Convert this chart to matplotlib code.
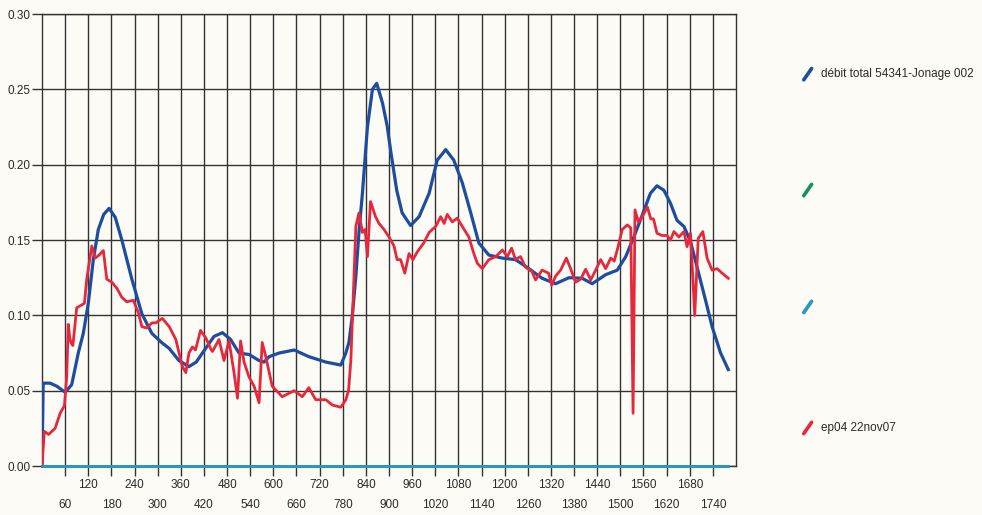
import matplotlib
matplotlib.use("Agg")
import matplotlib.pyplot as plt
from matplotlib.lines import Line2D
from matplotlib.ticker import MultipleLocator, FixedLocator

plt.rcParams['font.family'] = ['Liberation Sans', 'DejaVu Sans']

# débit total (blue)
debit_x = [0, 3, 21, 38, 60, 77, 94, 107, 120, 133, 146, 160, 174, 190, 207, 233, 259, 285,
           310, 330, 355, 381, 400, 416, 446, 468, 489, 511, 537, 563, 576, 589, 615, 654,
           692, 736, 775, 788, 796, 805, 814, 822, 831, 844, 857, 868, 883, 895, 905, 920,
           934, 956, 978, 1004, 1025, 1047, 1068, 1090, 1112, 1133, 1159, 1194, 1228, 1263,
           1297, 1332, 1367, 1401, 1427, 1462, 1492, 1514, 1535, 1557, 1578, 1595, 1613,
           1630, 1647, 1665, 1682, 1699, 1721, 1738, 1760, 1780]
debit_y = [0.0, 0.055, 0.055, 0.053, 0.049, 0.054, 0.075, 0.088, 0.108, 0.137, 0.157, 0.167,
           0.171, 0.165, 0.150, 0.124, 0.101, 0.088, 0.082, 0.078, 0.070, 0.066, 0.069, 0.075,
           0.086, 0.0885, 0.084, 0.075, 0.074, 0.070, 0.069, 0.0726, 0.075, 0.077, 0.0726,
           0.069, 0.067, 0.075, 0.082, 0.100, 0.126, 0.155, 0.181, 0.225, 0.250, 0.254, 0.241,
           0.226, 0.208, 0.183, 0.168, 0.1596, 0.1655, 0.181, 0.203, 0.210, 0.203, 0.188,
           0.168, 0.148, 0.140, 0.138, 0.137, 0.131, 0.1246, 0.121, 0.125, 0.1246, 0.121,
           0.127, 0.130, 0.139, 0.152, 0.1667, 0.181, 0.186, 0.183, 0.1744, 0.163, 0.159,
           0.149, 0.132, 0.110, 0.0925, 0.075, 0.064]

# ep04 22nov07 (red)
ep04_x = [0, 6, 17, 34, 47, 58, 64, 68, 72, 75, 80, 90, 103, 110, 116, 129, 138, 148, 159,
          168, 181, 194, 207, 220, 237, 250, 259, 272, 285, 295, 312, 330, 347, 364, 373,
          381, 390, 398, 411, 425, 437, 442, 459, 472, 485, 498, 507, 515, 524, 537, 550,
          563, 571, 580, 597, 623, 654, 675, 692, 710, 736, 753, 775, 788, 795, 801, 809,
          814, 822, 831, 838, 844, 852, 865, 874, 887, 900, 913, 921, 930, 941, 952, 962,
          973, 990, 1004, 1021, 1034, 1043, 1051, 1064, 1077, 1090, 1107, 1120, 1129, 1142,
          1159, 1177, 1194, 1207, 1218, 1228, 1241, 1254, 1271, 1280, 1297, 1314, 1322,
          1332, 1345, 1360, 1371, 1384, 1397, 1410, 1423, 1436, 1449, 1462, 1475, 1484,
          1492, 1505, 1518, 1527, 1533, 1538, 1547, 1557, 1570, 1579, 1586, 1595, 1608,
          1621, 1630, 1639, 1652, 1665, 1673, 1682, 1693, 1702, 1714, 1725, 1738, 1751,
          1764, 1780]
ep04_y = [0.0, 0.023, 0.021, 0.025, 0.035, 0.040, 0.059, 0.094, 0.085, 0.082, 0.080, 0.105,
          0.107, 0.108, 0.124, 0.146, 0.138, 0.140, 0.143, 0.124, 0.122, 0.118, 0.112, 0.109,
          0.110, 0.1016, 0.0925, 0.0916, 0.095, 0.095, 0.098, 0.0925, 0.084, 0.066, 0.062,
          0.075, 0.079, 0.077, 0.090, 0.085, 0.078, 0.076, 0.084, 0.070, 0.083, 0.062, 0.045,
          0.083, 0.069, 0.059, 0.053, 0.042, 0.082, 0.073, 0.053, 0.046, 0.050, 0.046, 0.052,
          0.044, 0.044, 0.0405, 0.039, 0.044, 0.050, 0.070, 0.126, 0.159, 0.168, 0.155, 0.157,
          0.139, 0.1755, 0.1655, 0.161, 0.157, 0.152, 0.146, 0.137, 0.137, 0.128, 0.141,
          0.137, 0.142, 0.148, 0.155, 0.159, 0.1655, 0.161, 0.167, 0.162, 0.1645, 0.159,
          0.152, 0.141, 0.1346, 0.131, 0.137, 0.139, 0.1434, 0.139, 0.1446, 0.137, 0.139,
          0.132, 0.129, 0.1235, 0.130, 0.128, 0.120, 0.126, 0.130, 0.138, 0.131, 0.122,
          0.124, 0.1306, 0.1235, 0.130, 0.137, 0.131, 0.138, 0.136, 0.1434, 0.157, 0.160,
          0.158, 0.035, 0.170, 0.162, 0.1655, 0.172, 0.164, 0.164, 0.1545, 0.153, 0.153,
          0.150, 0.1556, 0.152, 0.1556, 0.1456, 0.1545, 0.100, 0.151, 0.1556, 0.138, 0.130,
          0.131, 0.128, 0.1246]

# two empty channels sitting on zero
zero_x = [0, 1780]
zero_y = [0.0, 0.0]

legend_labels = ['débit total 54341-Jonage 002', '', '', 'ep04 22nov07']
colors = ['#1d4d9e', '#17905a', '#2a96c4', '#e6283d']

bg = '#fcfbf6'
fig = plt.figure(figsize=(9.82, 5.15), dpi=100, facecolor=bg)
ax = fig.add_axes([0.0428, 0.0951, 0.7067, 0.8777], facecolor=bg)

ax.plot(zero_x, zero_y, color=colors[1], lw=2.0, zorder=6, clip_on=False)
ax.plot(zero_x, zero_y, color=colors[2], lw=2.0, zorder=6, clip_on=False)
ax.plot(debit_x, debit_y, color=colors[0], lw=2.3, zorder=4, solid_joinstyle='round')
ax.plot(ep04_x, ep04_y, color=colors[3], lw=2.0, zorder=5, solid_joinstyle='round')

ax.set_xlim(0, 1800)
ax.set_ylim(0, 0.30)

ax.yaxis.set_major_locator(MultipleLocator(0.05))
ax.yaxis.set_major_formatter(lambda v, p: f'{v:.2f}')

# staggered x labels: multiples of 120 on top row, odd multiples of 60 below
ax.xaxis.set_major_locator(FixedLocator(range(120, 1800, 120)))
ax.xaxis.set_minor_locator(FixedLocator(range(60, 1800, 120)))
ax.xaxis.set_major_formatter(lambda v, p: f'{int(v)}')
ax.xaxis.set_minor_formatter(lambda v, p: f'{int(v)}')

grid_c = '#333333'
ax.grid(True, which='both', color=grid_c, lw=1.0)
ax.set_axisbelow(True)
for s in ax.spines.values():
    s.set_color(grid_c)
    s.set_linewidth(1.0)

ax.tick_params(axis='y', length=7, width=1.0, color=grid_c, pad=1, labelsize=8.5, labelcolor='#2a2a2a')
ax.tick_params(axis='x', which='major', length=7, width=1.0, color=grid_c, pad=2,
               labelsize=8.5, labelcolor='#2a2a2a')
ax.tick_params(axis='x', which='minor', length=7, width=1.0, color=grid_c, pad=17,
               labelsize=8.5, labelcolor='#2a2a2a')

# legend on the right: short slanted strokes with labels
legend_y = [0.856, 0.631, 0.404, 0.169]
for lab, c, yy in zip(legend_labels, colors, legend_y):
    fig.add_artist(Line2D([0.8185, 0.8265], [yy - 0.011, yy + 0.011], color=c, lw=2.6,
                          solid_capstyle='round', transform=fig.transFigure))
    if lab:
        fig.text(0.836, yy, lab, fontsize=8.5, color='#2a2a2a', va='center', ha='left')

fig.savefig('out.png', dpi=100, facecolor=bg)
